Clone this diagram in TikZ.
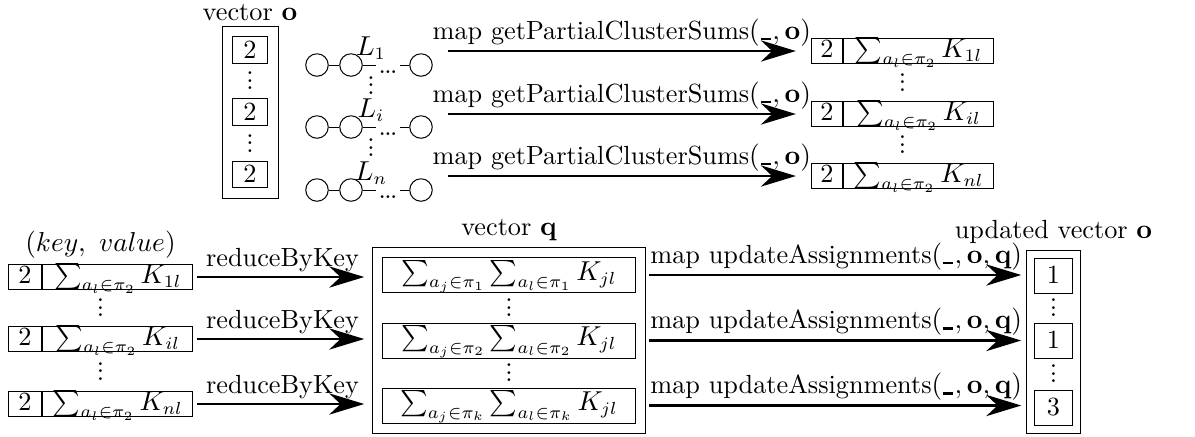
\documentclass[tikz,border=0pt]{standalone}
\usepackage{amsmath}
\usepackage{amsfonts}
\usetikzlibrary{positioning,calc,fit,arrows.meta}

\newcommand{\shortvdots}{\vbox{\baselineskip3pt\lineskiplimit0pt\hbox{.}\hbox{.}\hbox{.}}}
\newcommand{\wildarg}{\mbox{\kern0.5pt\rule[-0.5pt]{4pt}{1pt}\kern0.5pt}}

\begin{document}
\begin{tikzpicture}[x=0.4pt,y=-0.4pt,font=\fontsize{10.5pt}{12.6pt}\selectfont,
    digit/.style={rectangle, draw=black, inner sep=0pt, text height=6.5pt, text depth=0pt},
    keybox/.style={rectangle, draw=black, inner sep=0.5pt, minimum width=12.5pt, text height=7pt, text depth=2pt},
    valbox/.style={rectangle, draw=black, inner sep=0.5pt, minimum width=60pt, text height=7pt, text depth=2pt},
    sumbox/.style={rectangle, draw=black, inner sep=0.5pt, minimum width=101pt, text height=8.5pt, text depth=4.5pt},
    outer/.style={rectangle, draw=black, inner sep=4pt},
    ball/.style={circle, draw=black, minimum size=9pt, inner sep=0pt},
    vd/.style={inner sep=0pt},
    arr/.style={line width=1pt, -{Stealth[length=14pt,width=8.5pt,inset=4.5pt]}},
    lbl/.style={above, inner sep=1.5pt}]

      \useasboundingbox (0,0) rectangle (1195,436);
   %   \draw[help lines] (0,0) grid (1195,436);

      % vector o
      \node [digit, minimum width=14pt, minimum height=10.5pt] (o1) at (250,50) {2};
      \node [digit, minimum width=14pt, minimum height=10.5pt] (o2) at (250,112) {2};
      \node [digit, minimum width=14pt, minimum height=10.5pt] (o3) at (250,174.5) {2};
      \node [vd] at ($(o1)!.5!(o2)$) {\shortvdots};
      \node [vd] at ($(o2)!.5!(o3)$) {\shortvdots};
      \node [outer, fit=(o1)(o3)] (vo) {};
      \node [above, inner sep=2pt] at (vo.north) {vector $\mathbf{o}$};

      % partitions L_1 ... L_n
      \node [ball] (c11) at (317,65) {};
      \node [ball] (c12) at (351,65) {};
      \node [anchor=base, inner sep=1pt] (d1) at (388,73) {.\kern-0.6pt.\kern-0.6pt.};
      \node [ball] (c13) at (421,65) {};
      \draw (c11) -- (c12) -- (c12 -| d1.west);
      \draw (c13 -| d1.east) -- (c13);
      \node (L1) at (371,48) {$L_1$};

      \node [ball] (c21) at (317,127) {};
      \node [ball] (c22) at (351,127) {};
      \node [anchor=base, inner sep=1pt] (d2) at (388,135) {.\kern-0.6pt.\kern-0.6pt.};
      \node [ball] (c23) at (421,127) {};
      \draw (c21) -- (c22) -- (c22 -| d2.west);
      \draw (c23 -| d2.east) -- (c23);
      \node (Li) at (371,110) {$L_i$};

      \node [ball] (c31) at (317,190) {};
      \node [ball] (c32) at (351,190) {};
      \node [anchor=base, inner sep=1pt] (d3) at (388,198) {.\kern-0.6pt.\kern-0.6pt.};
      \node [ball] (c33) at (421,190) {};
      \draw (c31) -- (c32) -- (c32 -| d3.west);
      \draw (c33 -| d3.east) -- (c33);
      \node (Ln) at (371,173) {$L_n$};

      \node [vd] at ($(L1)!.6!(Li)$) {\shortvdots};
      \node [vd] at ($(Li)!.6!(Ln)$) {\shortvdots};

      % partial sums per partition
      \node [keybox] (k1) at (827,51) {2};
      \node [valbox, right=0pt of k1] (v1) {$\sum_{a_l\in\pi_2} K_{1l}$};
      \node [keybox] (k2) at (827,114) {2};
      \node [valbox, right=0pt of k2] (v2) {$\sum_{a_l\in\pi_2} K_{il}$};
      \node [keybox] (k3) at (827,176) {2};
      \node [valbox, right=0pt of k3] (v3) {$\sum_{a_l\in\pi_2} K_{nl}$};
      \node [vd] at ($(k1.west)!.5!(v2.east)$) {\shortvdots};
      \node [vd] at ($(k2.west)!.5!(v3.east)$) {\shortvdots};

      \draw [arr, shorten <=6pt, shorten >=6pt] (c13.east |- k1) -- (k1.west)
            node [lbl, midway] {map getPartialClusterSums$(\wildarg,\mathbf{o})$};
      \draw [arr, shorten <=6pt, shorten >=6pt] (c23.east |- k2) -- (k2.west)
            node [lbl, midway] {map getPartialClusterSums$(\wildarg,\mathbf{o})$};
      \draw [arr, shorten <=6pt, shorten >=6pt] (c33.east |- k3) -- (k3.west)
            node [lbl, midway] {map getPartialClusterSums$(\wildarg,\mathbf{o})$};

      % (key, value) pairs
      \node [keybox, minimum width=13.5pt] (bk1) at (25,277) {2};
      \node [valbox, right=0pt of bk1] (bv1) {$\sum_{a_l\in\pi_2} K_{1l}$};
      \node [keybox, minimum width=13.5pt] (bk2) at (25,339) {2};
      \node [valbox, right=0pt of bk2] (bv2) {$\sum_{a_l\in\pi_2} K_{il}$};
      \node [keybox, minimum width=13.5pt] (bk3) at (25,404) {2};
      \node [valbox, right=0pt of bk3] (bv3) {$\sum_{a_l\in\pi_2} K_{nl}$};
      \node [vd] at ($(bk1.west)!.5!(bv2.east)$) {\shortvdots};
      \node [vd] at ($(bk2.west)!.5!(bv3.east)$) {\shortvdots};
      \node [above, inner sep=2pt] at ($(bk1.north west)!.5!(bv1.north east)$) {$(key,\ value)$};

      % vector q
      \node [sumbox] (q1) at (509,275) {$\sum_{a_j\in\pi_1}\sum_{a_l\in\pi_1} K_{jl}$};
      \node [sumbox] (q2) at (509,340.5) {$\sum_{a_j\in\pi_2}\sum_{a_l\in\pi_2} K_{jl}$};
      \node [sumbox] (q3) at (509,405.5) {$\sum_{a_j\in\pi_k}\sum_{a_l\in\pi_k} K_{jl}$};
      \node [vd] at ($(q1)!.5!(q2)$) {\shortvdots};
      \node [vd] at ($(q2)!.5!(q3)$) {\shortvdots};
      \node [outer, fit=(q1)(q3)] (vq) {};
      \node [above, inner sep=2pt] at (vq.north) {vector $\mathbf{q}$};

      \draw [arr, shorten <=1.5pt, shorten >=3pt] (bv1.east) -- (bv1 -| vq.west)
            node [lbl, midway] {reduceByKey};
      \draw [arr, shorten <=1.5pt, shorten >=3pt] (bv2.east) -- (bv2 -| vq.west)
            node [lbl, midway] {reduceByKey};
      \draw [arr, shorten <=1.5pt, shorten >=3pt] (bv3.east) -- (bv3 -| vq.west)
            node [lbl, midway] {reduceByKey};

      % updated vector o
      \node [digit, minimum width=15pt, minimum height=14pt] (u1) at (1053.5,275.5) {1};
      \node [digit, minimum width=15pt, minimum height=14pt] (u2) at (1053.5,340.5) {1};
      \node [digit, minimum width=15pt, minimum height=14pt] (u3) at (1053.5,407.5) {3};
      \node [vd] at ($(u1)!.5!(u2)$) {\shortvdots};
      \node [vd] at ($(u2)!.5!(u3)$) {\shortvdots};
      \node [outer, inner sep=3pt, fit=(u1)(u3)] (vu) {};
      \node [above, inner sep=2pt] at (vu.north) {updated vector $\mathbf{o}$};

      \draw [arr, shorten <=1pt, shorten >=2pt] (q1 -| vq.east) -- (q1 -| vu.west)
            node [lbl, midway] {map updateAssignments$(\wildarg,\mathbf{o},\mathbf{q})$};
      \draw [arr, shorten <=1pt, shorten >=2pt] (q2 -| vq.east) -- (q2 -| vu.west)
            node [lbl, midway] {map updateAssignments$(\wildarg,\mathbf{o},\mathbf{q})$};
      \draw [arr, shorten <=1pt, shorten >=2pt] (q3 -| vq.east) -- (q3 -| vu.west)
            node [lbl, midway] {map updateAssignments$(\wildarg,\mathbf{o},\mathbf{q})$};

    \end{tikzpicture}
\end{document}
